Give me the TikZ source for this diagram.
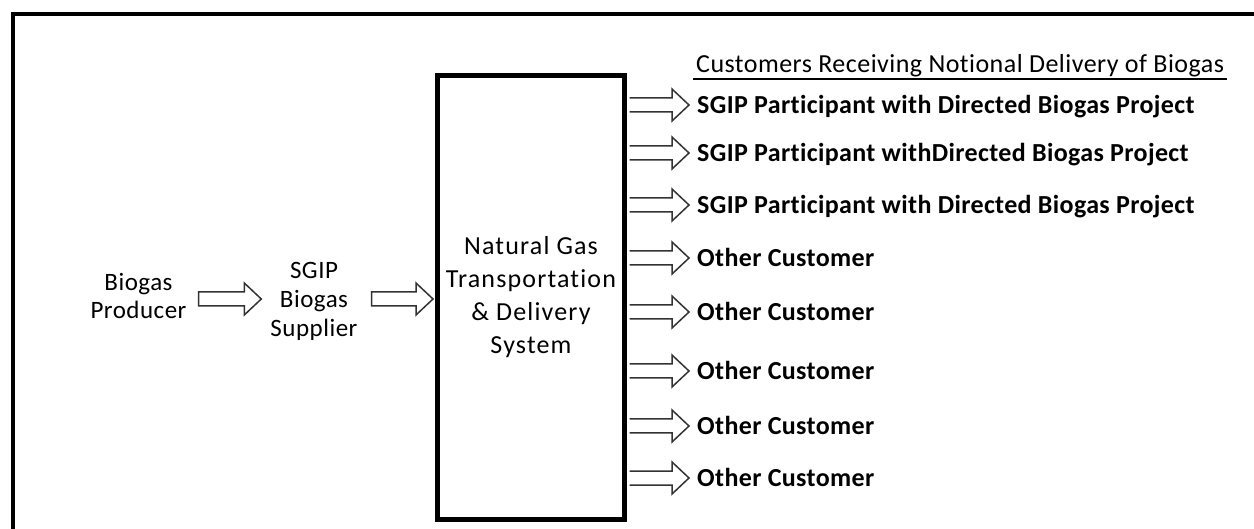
\documentclass[tikz,border=0pt]{standalone}
\usepackage{fontspec}
\setmainfont{Carlito}[RawFeature=-liga]
\newfontfamily\boxfont{Carlito}[RawFeature=-liga,LetterSpace=4.5]
\newfontfamily\hdrfont{Carlito}[RawFeature=-liga,LetterSpace=1.8]
\newfontfamily\custfont{Carlito}[RawFeature=-liga,LetterSpace=1.4]
\newfontfamily\lblfont{Carlito}[RawFeature=-liga,LetterSpace=2]
\usetikzlibrary{calc}
\newcommand\blockarr[2]{\path[barrow] let \p1=#1, \p2=#2 in
  (\x1,\y1+7pt) -- (\x2-17pt,\y1+7pt) -- (\x2-17pt,\y1+16pt) -- (\x2,\y1)
  -- (\x2-17pt,\y1-16pt) -- (\x2-17pt,\y1-7pt) -- (\x1,\y1-7pt) -- cycle;}
\newcommand\blockarro[2]{\path[barrow] let \p1=#1, \p2=#2 in
  (\x1,\y1+7pt) -- (\x2-17pt,\y1+7pt) -- (\x2-17pt,\y1+16pt) -- (\x2,\y1)
  -- (\x2-17pt,\y1-16pt) -- (\x2-17pt,\y1-7pt) -- (\x1,\y1-7pt);}
\begin{document}
\begin{tikzpicture}[x=1pt,y=-1pt,
  barrow/.style={draw=black!80, line width=1.5pt, fill=white, line join=miter},
  lbl/.style={font=\lblfont\fontsize{25}{28.5}\selectfont, align=center, inner sep=0pt},
  cust/.style={font=\custfont\fontsize{26}{30}\selectfont\bfseries, anchor=west,
    inner xsep=8pt, inner ysep=0pt, text height=17pt, text depth=0pt},
  sysbox/.style={draw, line width=5pt, minimum width=187pt, minimum height=443.5pt,
    inner sep=0pt, font=\boxfont\fontsize{26}{33}\selectfont, align=center}
]
\useasboundingbox (0,0) rectangle (1254,529);
\draw[line width=4pt] (13,529) -- (13,14.5) -- (1254,14.5);

\node[sysbox] (ngs) at (531,297.25) {Natural Gas\\Transportation\\\& Delivery\\System};

\node[lbl] (prod) at (138.5,296) {Biogas\\Producer};
\node[lbl, font=\lblfont\fontsize{25}{29}\selectfont] (sup) at (314,301) {SGIP\\Biogas\\Supplier};

\node[anchor=base west, inner sep=0pt, font=\hdrfont\fontsize{26}{30}\selectfont] (hdr) at (696,73)
  {Customers Receiving Notional Delivery of Biogas};
\draw[line width=1.2pt] ([xshift=-3pt,yshift=-6pt]hdr.base west) -- ([xshift=3pt,yshift=-6pt]hdr.base east);

\node[cust] (c1) at (689,105) {SGIP Participant with Directed Biogas Project};
\node[cust] (c2) at (689,153) {SGIP Participant withDirected Biogas Project};
\node[cust] (c3) at (689,205) {SGIP Participant with Directed Biogas Project};
\node[cust] (c4) at (689,258) {Other Customer};
\node[cust] (c5) at (689,312) {Other Customer};
\node[cust] (c6) at (689,371) {Other Customer};
\node[cust] (c7) at (689,426) {Other Customer};
\node[cust] (c8) at (689,478) {Other Customer};

\blockarr{([xshift=12pt,yshift=-3pt]prod.east)}{([xshift=-9pt]sup.west)}
\blockarr{([xshift=14pt,yshift=2pt]sup.east)}{([xshift=-2pt]ngs.west)}
\foreach \c in {c1,c2,c3,c4,c5,c6,c7,c8}{
  \blockarro{([xshift=2.5pt]ngs.east |- \c.west)}{(\c.west)}
}
\end{tikzpicture}
\end{document}
